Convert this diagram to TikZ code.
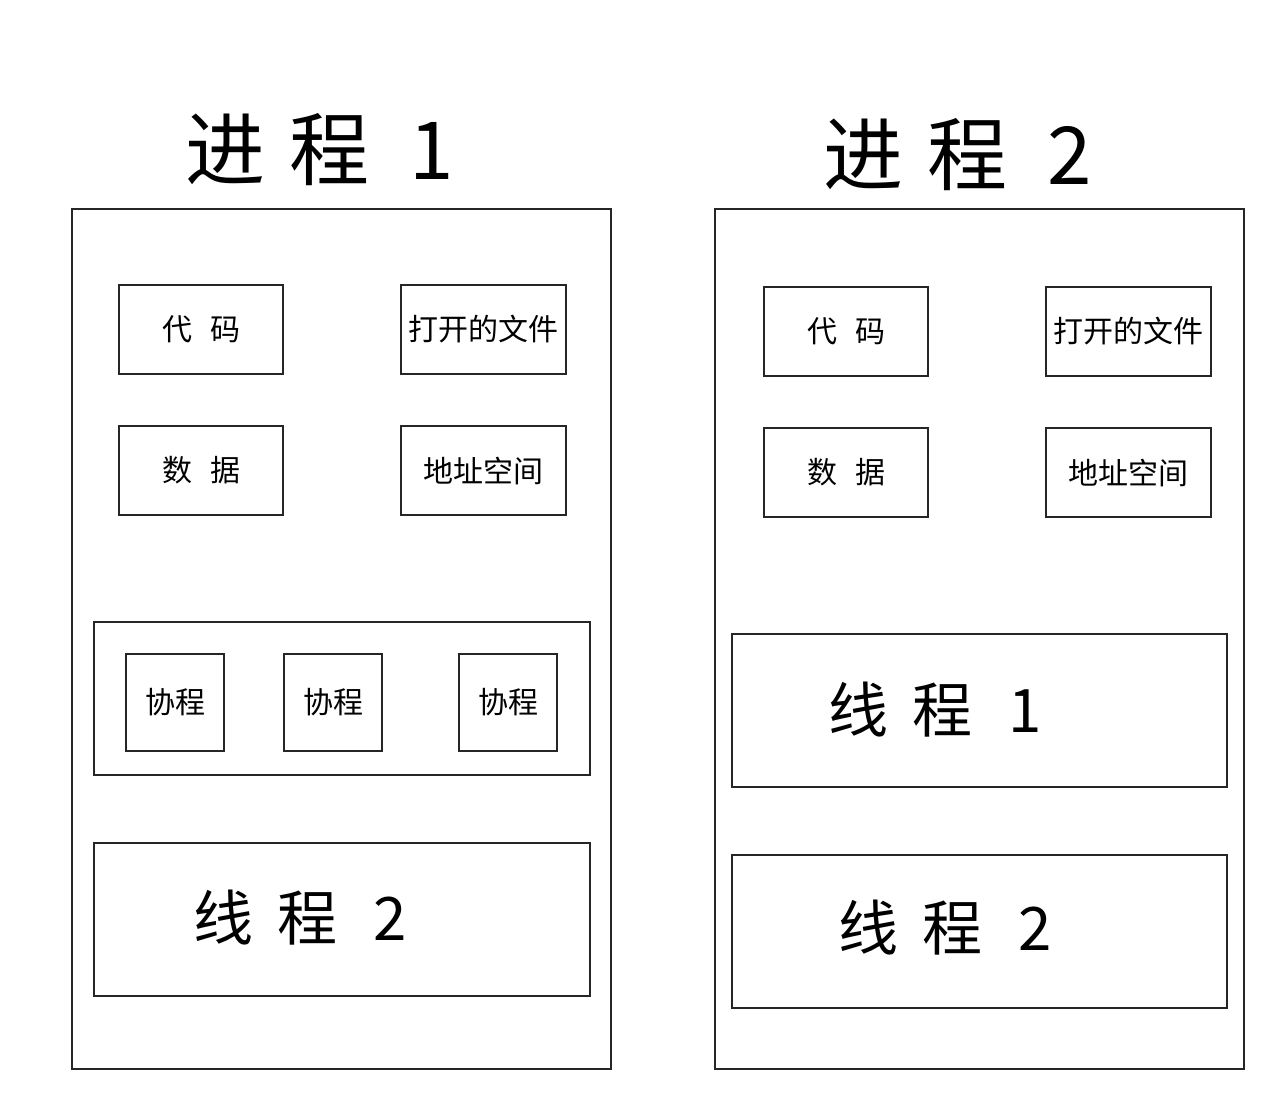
\documentclass[tikz,border=0pt]{standalone}
\usepackage{fontspec}
\newfontfamily\cjk{Noto Sans CJK SC}
\begin{document}
\begin{tikzpicture}[x=0.5pt,y=-0.5pt,
  box/.style={draw=black!85,line width=0.7pt},
  title/.style={font=\cjk\fontsize{40}{42}\selectfont},
  lab/.style={font=\cjk\fontsize{15}{17}\selectfont,inner sep=1pt},
  thr/.style={font=\cjk\fontsize{30}{32}\selectfont}]
\useasboundingbox (0,0) rectangle (1288,1114);
% process 1
\node[title] (t1) at (320,150) {进\hspace{0.3em}程\hspace{0.5em}1};
\draw[box] (72,209) rectangle (611,1069);
\draw[box] (119,285) rectangle node[lab] (c1) {代\hspace{0.6em}码} (283,374);
\draw[box] (401,285) rectangle node[lab] (f1) {打开的文件} (566,374);
\draw[box] (119,426) rectangle node[lab] (d1) {数\hspace{0.6em}据} (283,515);
\draw[box] (401,426) rectangle node[lab] (a1) {地址空间} (566,515);
\draw[box] (94,622) rectangle (590,775);
\draw[box] (126,654) rectangle node[lab] (co1) {协程} (224,751);
\draw[box] (284,654) rectangle node[lab] (co2) {协程} (382,751);
\draw[box] (459,654) rectangle node[lab] (co3) {协程} (557,751);
\draw[box] (94,843) rectangle (590,996);
\node[thr] (th12) at (300,918) {线\hspace{0.4em}程\hspace{0.6em}2};
% process 2
\node[title] (t2) at (958,155) {进\hspace{0.3em}程\hspace{0.5em}2};
\draw[box] (715,209) rectangle (1244,1069);
\draw[box] (764,287) rectangle node[lab] (c2) {代\hspace{0.6em}码} (928,376);
\draw[box] (1046,287) rectangle node[lab] (f2) {打开的文件} (1211,376);
\draw[box] (764,428) rectangle node[lab] (d2) {数\hspace{0.6em}据} (928,517);
\draw[box] (1046,428) rectangle node[lab] (a2) {地址空间} (1211,517);
\draw[box] (732,634) rectangle (1227,787);
\node[thr] (th21) at (935,710) {线\hspace{0.4em}程\hspace{0.6em}1};
\draw[box] (732,855) rectangle (1227,1008);
\node[thr] (th22) at (945,928) {线\hspace{0.4em}程\hspace{0.6em}2};
\end{tikzpicture}
\end{document}
